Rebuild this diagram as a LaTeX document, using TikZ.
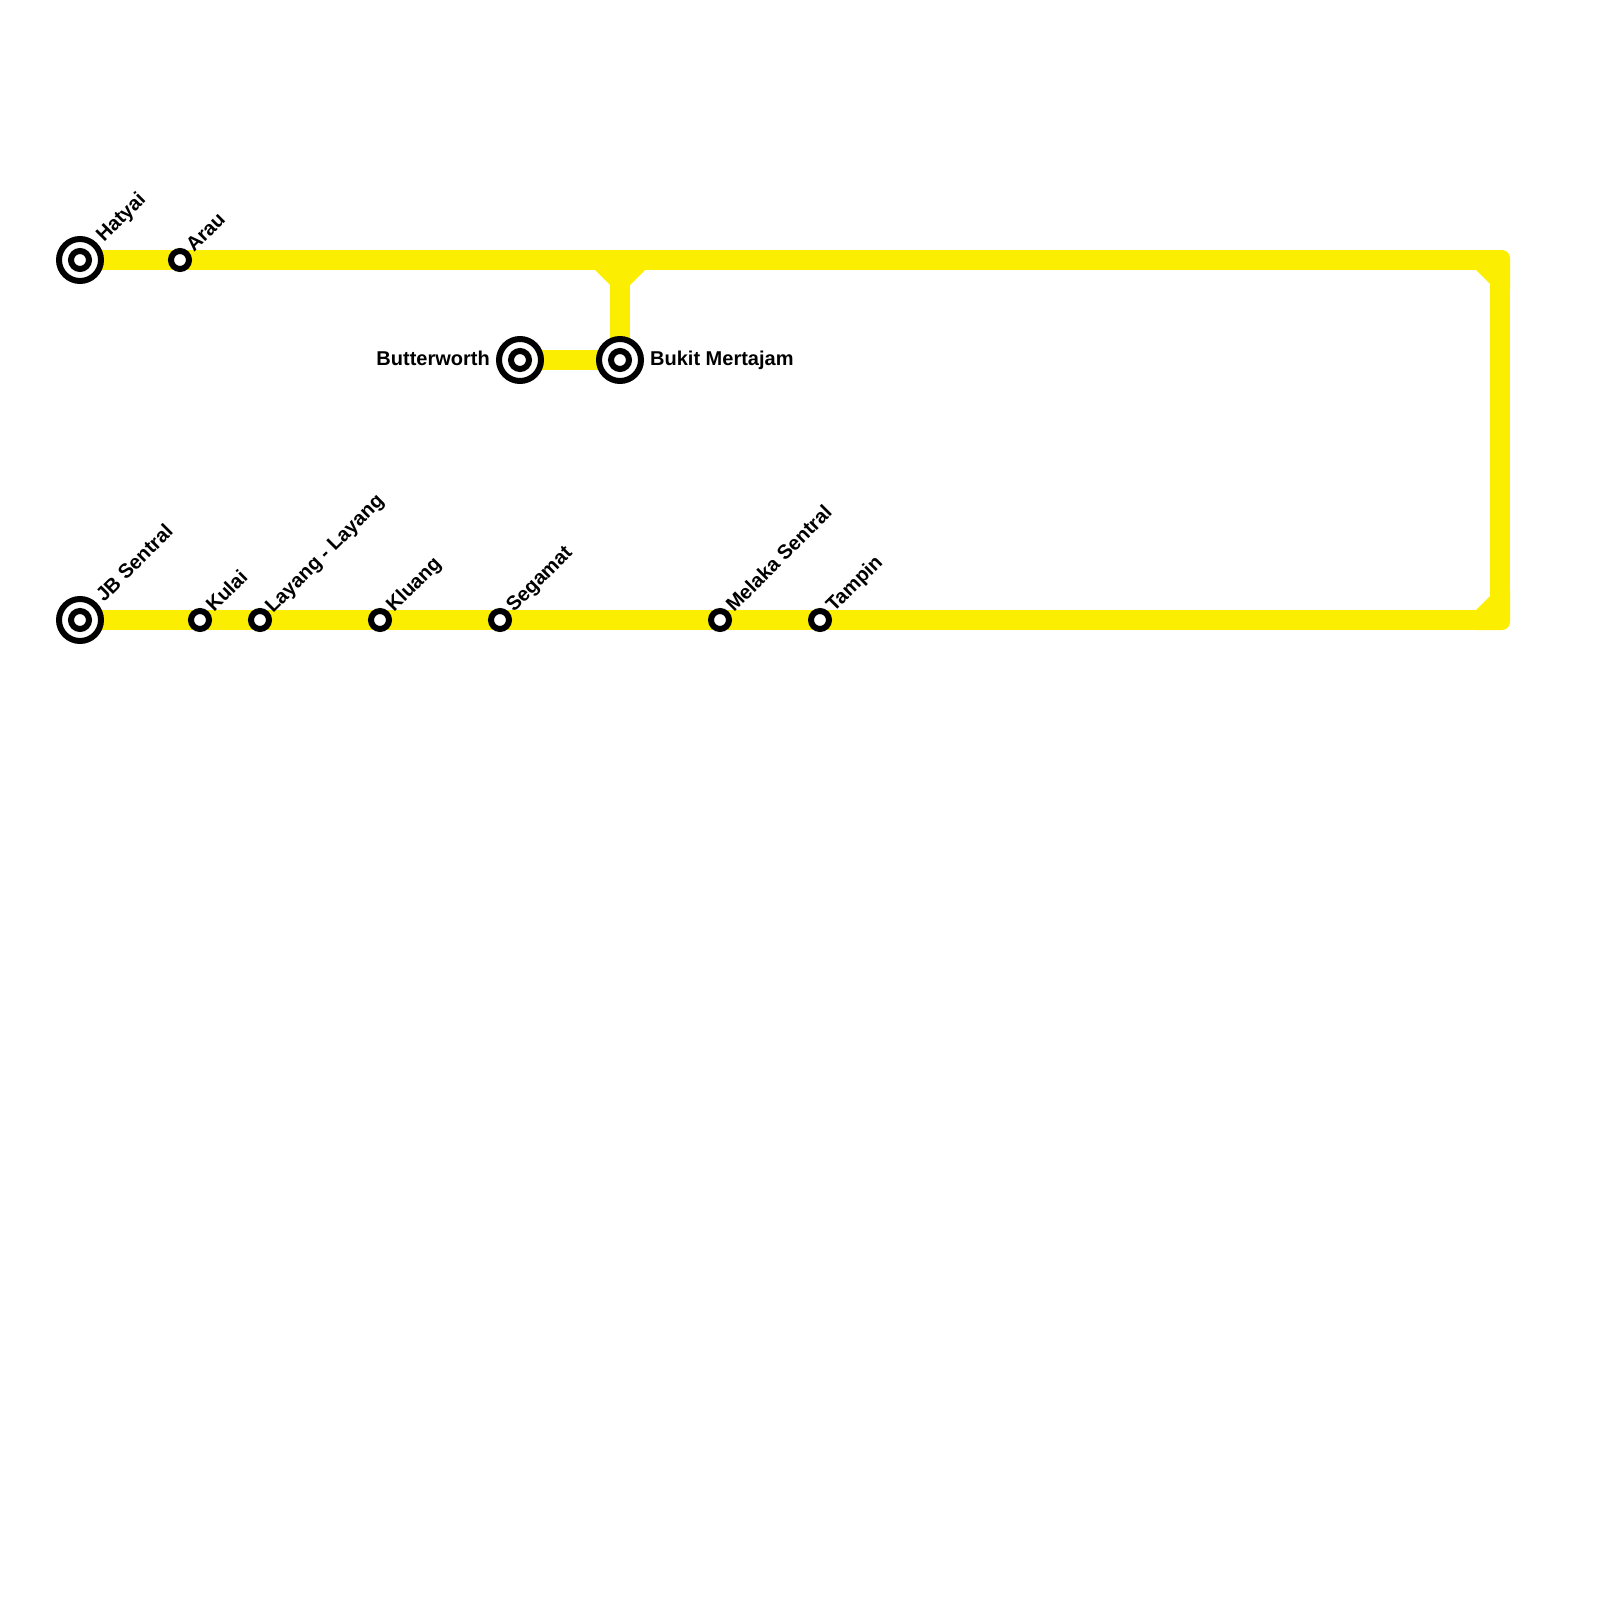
\documentclass[tikz,border=0pt]{standalone}
\usepackage{fontspec}
\setmainfont{Liberation Sans}
\definecolor{lineyellow}{HTML}{FCEE00}
\tikzset{
  trackline/.style={draw=lineyellow,line width=20pt,line cap=butt},
  trackfill/.style={fill=lineyellow,draw=none},
  bigstation/.style={circle,draw=black,fill=white,line width=6pt,minimum size=42pt,inner sep=0pt},
  smallstation/.style={circle,draw=black,fill=white,line width=6pt,minimum size=18pt,inner sep=0pt},
  stationlabel/.style={font=\bfseries\fontsize{20}{20}\selectfont,text=black,inner sep=0pt},
  difflabel/.style={stationlabel,rotate=45,anchor=base west},
}
\begin{document}
\begin{tikzpicture}[x=1pt,y=-1pt]
\useasboundingbox (0,0) rectangle (1600,1600);
% coordinates
\coordinate (hatyaiC) at (80,260);
\coordinate (junction) at (620,260);
\coordinate (topcorner) at (1490,260);
\coordinate (botcorner) at (1490,620);
\coordinate (rightTop) at (1500,280);
\coordinate (rightBot) at (1500,600);
\coordinate (jbC) at (80,620);
\coordinate (bukitC) at (620,360);
\coordinate (butterC) at (520,360);
% tracks
\draw[trackline] (hatyaiC) -- (topcorner);
\draw[trackline] (rightTop) -- (rightBot);
\draw[trackline] (jbC) -- (botcorner);
\draw[trackline] (junction) -- (bukitC);
\draw[trackline] (butterC) -- (bukitC);
% chamfers and corners
\fill[trackfill] (595,265) -- (645,265) -- (645,270) -- (630,285) -- (610,285) -- (595,270) -- cycle;
\fill[trackfill] (1476,250) [rounded corners=8pt] -- (1510,250) [sharp corners] -- (1510,290) -- (1490,290) -- (1490,284) -- (1476,270) -- cycle;
\fill[trackfill] (1476,630) [rounded corners=8pt] -- (1510,630) [sharp corners] -- (1510,590) -- (1490,590) -- (1490,596) -- (1476,610) -- cycle;
% stations
\node[bigstation] (hatyai) at (hatyaiC) {};
\node[smallstation] (hatyaiIn) at (hatyaiC) {};
\node[smallstation] (arau) at (180,260) {};
\node[bigstation] (butter) at (butterC) {};
\node[smallstation] (butterIn) at (butterC) {};
\node[bigstation] (bukit) at (bukitC) {};
\node[smallstation] (bukitIn) at (bukitC) {};
\node[bigstation] (jb) at (jbC) {};
\node[smallstation] (jbIn) at (jbC) {};
\node[smallstation] (kulai) at (200,620) {};
\node[smallstation] (layang) at (260,620) {};
\node[smallstation] (kluang) at (380,620) {};
\node[smallstation] (segamat) at (500,620) {};
\node[smallstation] (melaka) at (720,620) {};
\node[smallstation] (tampin) at (820,620) {};
% labels
\node[difflabel] (lhatyai) at ([shift={(24,-17)}]hatyaiC) {Hatyai};
\node[difflabel] (larau) at ([shift={(14,-7)}]arau.center) {Arau};
\node[difflabel] (ljb) at ([shift={(24,-17)}]jbC) {JB Sentral};
\node[difflabel] (lkulai) at ([shift={(14,-7)}]kulai.center) {Kulai};
\node[difflabel] (llayang) at ([shift={(13,-6)}]layang.center) {Layang - Layang};
\node[difflabel] (lkluang) at ([shift={(14,-7)}]kluang.center) {Kluang};
\node[difflabel] (lsegamat) at ([shift={(14,-7)}]segamat.center) {Segamat};
\node[difflabel] (lmelaka) at ([shift={(14,-7)}]melaka.center) {Melaka Sentral};
\node[difflabel] (ltampin) at ([shift={(14,-7)}]tampin.center) {Tampin};
\node[stationlabel,anchor=base east] (lbutter) at (490,365) {Butterworth};
\node[stationlabel,anchor=base west] (lbukit) at (650,365) {Bukit Mertajam};
\end{tikzpicture}
\end{document}
